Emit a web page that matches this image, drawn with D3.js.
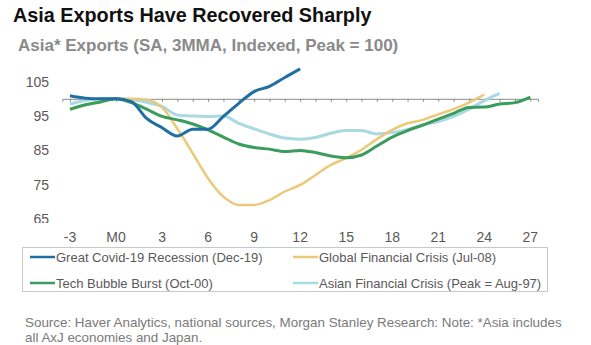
<!DOCTYPE html>
<html>
<head>
<meta charset="utf-8">
<script src="https://cdn.jsdelivr.net/npm/d3@7"></script>
<style>
  body { margin: 0; background: #fff; font-family: "Liberation Sans", Arial, sans-serif; }
</style>
</head>
<body>
<div id="chart"></div>
<script>
// months relative to the pre-recession peak (M0)
var covidMonths = d3.range(-3, 13);
var covidVals = [100.9, 100.2, 100.0, 100, 99.2, 94.3, 91.6, 89.2, 91.2, 91.2, 94.9, 98.7, 102.1, 103.6, 106.2, 108.7];

var gfcMonths = d3.range(-3, 25);
var gfcVals = [96.8, 98.1, 99.2, 100, 100, 99.7, 97.5, 91.3, 84.2, 76.9, 71.6, 69.2, 69.2, 70.6, 73.1, 75.0, 77.9, 80.8, 82.8, 85.2, 88.3, 91.0, 92.9, 93.9, 95.5, 97.0, 98.9, 101.2];

var techMonths = d3.range(-3, 28);
var techVals = [97.0, 98.3, 99.1, 100, 98.9, 97.0, 94.9, 93.9, 92.7, 91.0, 88.9, 86.9, 85.9, 85.4, 84.7, 85.0, 84.4, 83.4, 82.9, 83.7, 86.3, 88.9, 90.8, 92.4, 94.1, 95.8, 97.5, 97.6, 98.5, 98.9, 100.5];

var asianMonths = d3.range(-3, 26);
var asianVals = [98.5, 99.5, 100, 100, 99.7, 99.0, 97.8, 95.3, 95.0, 94.9, 95.0, 92.9, 91.3, 89.8, 88.6, 88.3, 88.8, 90.0, 90.8, 90.8, 89.8, 90.2, 91.0, 92.4, 93.4, 94.9, 97.0, 99.5, 101.6];

var xTicks = d3.range(-3, 28, 3);
var yTicks = [65, 75, 85, 95, 105];

var seriesNames = ["Great Covid-19 Recession (Dec-19)", "Global Financial Crisis (Jul-08)", "Tech Bubble Burst (Oct-00)", "Asian Financial Crisis (Peak = Aug-97)"];
var seriesColors = ["#1f6fa3", "#ecc978", "#3b9d5d", "#a9d9e3"];

var w = 591, h = 345;

var svg = d3.select("#chart").append("svg")
  .attr("width", w)
  .attr("height", h);

// titles
svg.append("text")
  .attr("x", 13).attr("y", 22)
  .attr("font-size", 19.8).attr("font-weight", "bold")
  .attr("fill", "#111")
  .text("Asia Exports Have Recovered Sharply");

svg.append("text")
  .attr("x", 18).attr("y", 51)
  .attr("font-size", 17).attr("font-weight", "bold")
  .attr("fill", "#8a8a8a")
  .text("Asia* Exports (SA, 3MMA, Indexed, Peak = 100)");

var x = d3.scaleLinear().domain([-3.5, 27.5]).range([62.3, 538]);
var y = d3.scaleLinear().domain([65, 105]).range([219.4, 81.6]);

// y labels, bottom one is cut off by the plot frame
svg.append("clipPath").attr("id", "yclip")
  .append("rect").attr("x", 0).attr("y", 60).attr("width", 60).attr("height", 163);

svg.append("g")
  .attr("clip-path", "url(#yclip)")
  .selectAll("text")
  .data(yTicks)
  .enter()
  .append("text")
  .attr("x", 49)
  .attr("y", function(d) { return y(d); })
  .attr("dy", "0.35em")
  .attr("text-anchor", "end")
  .attr("font-size", 14)
  .attr("fill", "#595959")
  .text(function(d) { return d; });

// x axis sits on the 100 line
var xAxis = d3.axisBottom(x)
  .tickValues(d3.range(-3, 28))
  .tickSize(3)
  .tickFormat("");

var ax = svg.append("g")
  .attr("transform", "translate(0," + y(100) + ")")
  .call(xAxis);
ax.select(".domain").attr("stroke", "#8c8c8c");
ax.selectAll(".tick line").attr("stroke", "#8c8c8c");

svg.append("g")
  .selectAll("text")
  .data(xTicks)
  .enter()
  .append("text")
  .attr("x", function(d) { return x(d); })
  .attr("y", 237)
  .attr("dy", "0.35em")
  .attr("text-anchor", "middle")
  .attr("font-size", 14)
  .attr("fill", "#595959")
  .text(function(d) { return d == 0 ? "M0" : d; });

var line = d3.line()
  .x(function(d) { return x(d[0]); })
  .y(function(d) { return y(d[1]); })
  .curve(d3.curveMonotoneX);

function draw(months, vals, color, width) {
  svg.append("path")
    .datum(d3.zip(months, vals))
    .attr("fill", "none")
    .attr("stroke", color)
    .attr("stroke-width", width)
    .attr("stroke-linejoin", "round")
    .attr("d", line);
}

draw(asianMonths, asianVals, seriesColors[3], 3);
draw(gfcMonths, gfcVals, seriesColors[1], 2.5);
draw(techMonths, techVals, seriesColors[2], 3);
draw(covidMonths, covidVals, seriesColors[0], 3);

// legend
svg.append("rect")
  .attr("x", 22.5).attr("y", 247.5)
  .attr("width", 525).attr("height", 44)
  .attr("fill", "none")
  .attr("stroke", "#c8c8c8");

var legendPos = [[30, 257], [293, 257], [30, 283], [293, 283]];
var lg = svg.append("g").selectAll("g")
  .data(seriesNames)
  .enter()
  .append("g")
  .attr("transform", function(d, i) { return "translate(" + legendPos[i][0] + "," + legendPos[i][1] + ")"; });

lg.append("line")
  .attr("x1", 0).attr("x2", 25)
  .attr("stroke", function(d, i) { return seriesColors[i]; })
  .attr("stroke-width", 2.5);

lg.append("text")
  .attr("x", 26)
  .attr("dy", "0.35em")
  .attr("font-size", 13)
  .attr("fill", "#595959")
  .text(function(d) { return d; });

// source note
var src = ["Source: Haver Analytics, national sources, Morgan Stanley Research: Note: *Asia includes",
           "all AxJ economies and Japan."];
svg.append("g").selectAll("text")
  .data(src)
  .enter()
  .append("text")
  .attr("x", 25)
  .attr("y", function(d, i) { return 322.5 + i * 15; })
  .attr("dy", "0.35em")
  .attr("font-size", 13.4)
  .attr("fill", "#7a7a7a")
  .text(function(d) { return d; });
</script>
</body>
</html>
